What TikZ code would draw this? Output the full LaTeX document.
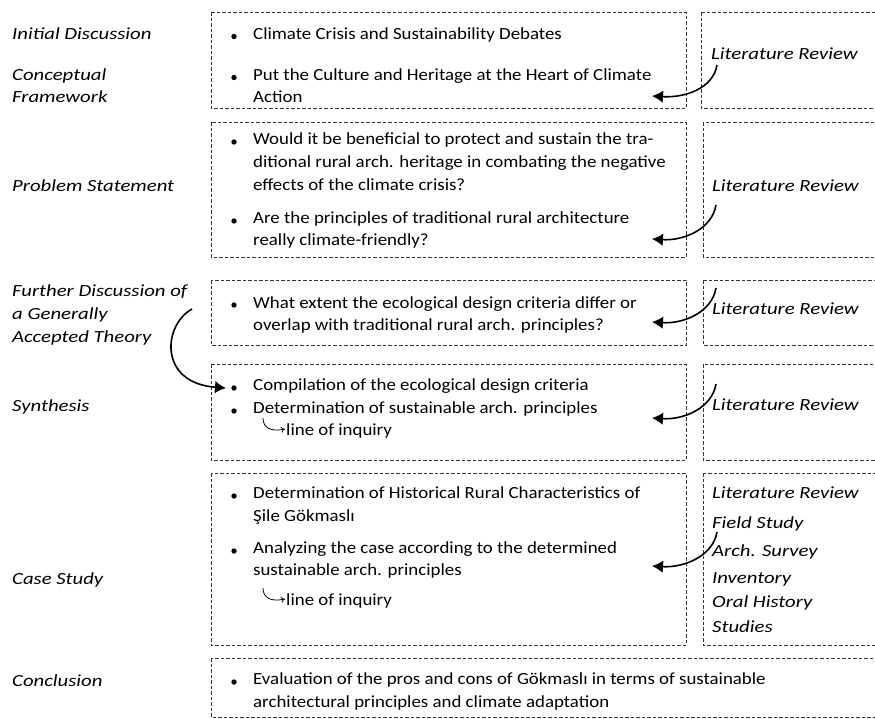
\documentclass[tikz,border=0pt]{standalone}
\usepackage{fontspec}
\setmainfont{Carlito}
\newfontfamily\regf{Carlito}[FakeStretch=1.11]
\newfontfamily\itf{Carlito}[FakeStretch=1.22]
\usetikzlibrary{arrows.meta,calc}
\begin{document}
\begin{tikzpicture}[x=1pt,y=-1pt,
  box/.style={draw=black!80,dashed,dash pattern=on 3.5pt off 2pt,line width=0.9pt},
  txt/.style={anchor=base west,inner sep=0pt,font=\fontsize{17}{22}\regf},
  lab/.style={anchor=base west,inner sep=0pt,font=\fontsize{17}{22}\itf\itshape},
  bul/.style={fill=black},
  bigarrow/.style={line width=1.6pt,-{Latex[length=11pt,width=12.5pt]}},
  hook/.style={line width=0.8pt,-{To[length=4pt,width=6pt]}}]
\useasboundingbox (0,0) rectangle (875,718);
\clip (0,0) rectangle (875,718);
% boxes
\draw[box] (211,12) rectangle (686,108);
\draw[box] (701,12) rectangle (890,108);
\draw[box] (211,122) rectangle (686,257);
\draw[box] (703,122) rectangle (890,257);
\draw[box] (211,280) rectangle (686,345);
\draw[box] (703,280) rectangle (890,345);
\draw[box] (211,364) rectangle (686,460);
\draw[box] (703,364) rectangle (890,460);
\draw[box] (211,473) rectangle (686,645);
\draw[box] (703,473) rectangle (890,645);
\draw[box] (211,658) rectangle (890,717);
% left labels
\node[lab] (l1) at (12,39) {Initial Discussion};
\node[lab] (l2a) at (12,80) {Conceptual};
\node[lab] (l2b) at (12,102) {Framework};
\node[lab] (l3) at (12,191) {Problem Statement};
\node[lab] (l4a) at (12,296) {Further Discussion of};
\node[lab] (l4b) at (12,319) {a Generally};
\node[lab] (l4c) at (12,342) {Accepted Theory};
\node[lab] (l5) at (12,411) {Synthesis};
\node[lab] (l6) at (12,584) {Case Study};
\node[lab] (l7) at (12,686) {Conclusion};
% bullets
\foreach \y in {36.5,77.5,142,221,305,388,411,496,551,682}
  \fill[bul] (234,\y) circle (2.7);
% box 1
\node[txt] (t1) at (253,39) {Climate Crisis and Sustainability Debates};
\node[txt] (t2a) at (253,80) {Put the Culture and Heritage at the Heart of Climate};
\node[txt] (t2b) at (253,102) {Action};
% box 2
\node[txt] (t3a) at (253,144.5) {Would it be beneficial to protect and sustain the tra-};
\node[txt] (t3b) at (253,167.5) {ditional rural arch. heritage in combating the negative};
\node[txt] (t3c) at (253,190.5) {effects of the climate crisis?};
\node[txt] (t4a) at (253,223.5) {Are the principles of traditional rural architecture};
\node[txt] (t4b) at (253,245.5) {really climate-friendly?};
% box 3
\node[txt] (t5a) at (253,308) {What extent the ecological design criteria differ or};
\node[txt] (t5b) at (253,330) {overlap with traditional rural arch. principles?};
% box 4
\node[txt] (t6) at (253,390.5) {Compilation of the ecological design criteria};
\node[txt] (t7) at (253,413.5) {Determination of sustainable arch. principles};
\node[txt] (t8) at (286,435.5) {line of inquiry};
% box 5
\node[txt] (t9a) at (253,498.5) {Determination of Historical Rural Characteristics of};
\node[txt] (t9b) at (253,521.5) {Şile Gökmaslı};
\node[txt] (t10a) at (253,553.5) {Analyzing the case according to the determined};
\node[txt] (t10b) at (253,575.5) {sustainable arch. principles};
\node[txt] (t11) at (286,605.5) {line of inquiry};
% conclusion
\node[txt] (t12a) at (253,684.5) {Evaluation of the pros and cons of Gökmaslı in terms of sustainable};
\node[txt] (t12b) at (253,707.5) {architectural principles and climate adaptation};
% right labels
\node[lab] (r1) at (711,59) {Literature Review};
\node[lab] (r2) at (712,191) {Literature Review};
\node[lab] (r3) at (712,314) {Literature Review};
\node[lab] (r4) at (712,410) {Literature Review};
\node[lab] (r5a) at (712,498) {Literature Review};
\node[lab] (r5b) at (712,528) {Field Study};
\node[lab] (r5c) at (712,556) {Arch. Survey};
\node[lab] (r5d) at (712,583) {Inventory};
\node[lab] (r5e) at (712,607) {Oral History};
\node[lab] (r5f) at (712,632) {Studies};
% arrow coordinates
\coordinate (s1) at (717,65);  \coordinate (e1) at (652,96);
\coordinate (s2) at (716,205); \coordinate (e2) at (652,239);
\coordinate (s3) at (716,288); \coordinate (e3) at (652,322);
\coordinate (s4) at (716,384); \coordinate (e4) at (652,418);
\coordinate (s5) at (717,532); \coordinate (e5) at (652,566);
\foreach \i in {1,...,5}
  \draw[bigarrow] (s\i) .. controls ($(s\i)+(-4,24)$) and ($(e\i)+(32,2)$) .. (e\i);
\coordinate (bs) at (192,309); \coordinate (be) at (226,388);
\draw[bigarrow] (bs) .. controls (163,325) and (158,383) .. (be);
% hooks
\coordinate (h1s) at (263,418); \coordinate (h1e) at (285,429);
\draw[hook] (h1s) .. controls (263,428) and (271,432) .. (h1e);
\coordinate (h2s) at (263,588); \coordinate (h2e) at (285,599);
\draw[hook] (h2s) .. controls (263,598) and (271,602) .. (h2e);
\end{tikzpicture}
\end{document}
